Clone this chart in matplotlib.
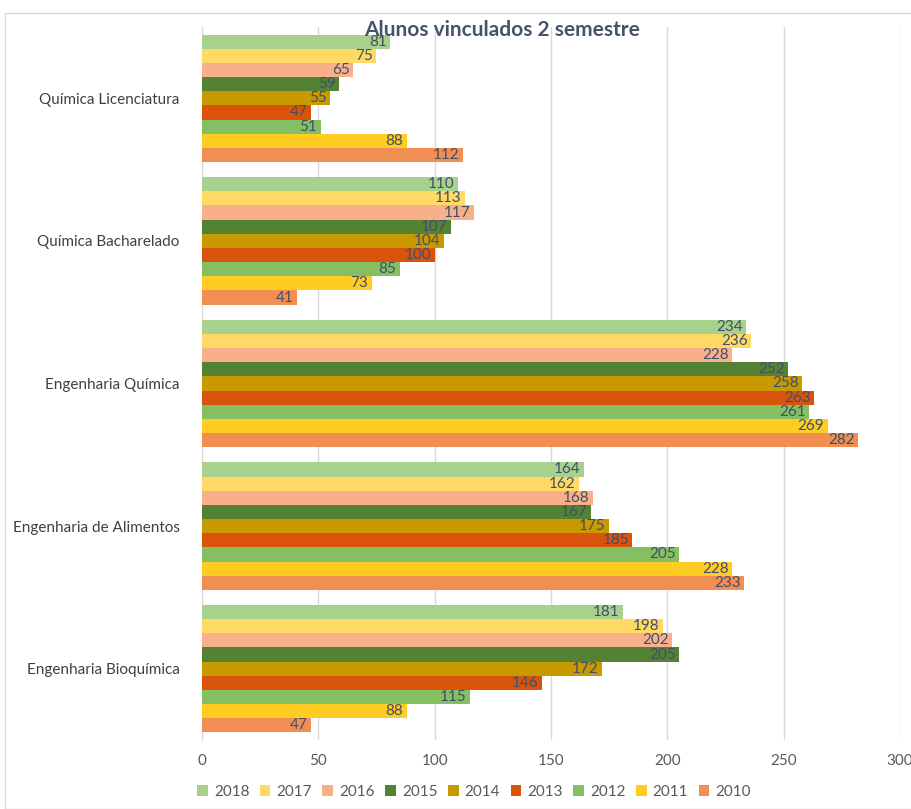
import matplotlib
matplotlib.use("Agg")
import matplotlib.pyplot as plt
import numpy as np
from matplotlib.patches import Rectangle

plt.rcParams['font.family'] = ['Lato', 'DejaVu Sans']

categories = ["Química Licenciatura", "Química Bacharelado", "Engenharia Química",
              "Engenharia de Alimentos", "Engenharia Bioquímica"]
years = ["2018", "2017", "2016", "2015", "2014", "2013", "2012", "2011", "2010"]
values = {
    "2018": [81, 110, 234, 164, 181],
    "2017": [75, 113, 236, 162, 198],
    "2016": [65, 117, 228, 168, 202],
    "2015": [59, 107, 252, 167, 205],
    "2014": [55, 104, 258, 175, 172],
    "2013": [47, 100, 263, 185, 146],
    "2012": [51, 85, 261, 205, 115],
    "2011": [88, 73, 269, 228, 88],
    "2010": [112, 41, 282, 233, 47],
}
colors = {
    "2018": "#A9D18E", "2017": "#FFD966", "2016": "#F8B08A",
    "2015": "#548235", "2014": "#C99A00", "2013": "#D9540A",
    "2012": "#84C062", "2011": "#FFCC22", "2010": "#F28E52",
}
title = "Alunos vinculados 2 semestre"

fig = plt.figure(figsize=(9.12, 8.09), dpi=100)
fig.patches.append(Rectangle((5/912, 0.0), 1.2, (809-13)/809, transform=fig.transFigure,
                             fill=False, edgecolor="#D9D9D9", linewidth=1.0, zorder=0))
ax = fig.add_axes([202/912, 1-740/809, (900-202)/912, (740-27)/809])

n = len(years)
bh = 0.894 / n
y = np.arange(len(categories))
for i, yr in enumerate(years):
    pos = y - 0.447 + bh * (i + 0.5)
    bars = ax.barh(pos, values[yr], height=bh, color=colors[yr], label=yr, zorder=3)
    for b, v in zip(bars, values[yr]):
        ax.text(b.get_width() - 1.5, b.get_y() + b.get_height()/2, str(v),
                ha="right", va="center", fontsize=11, color="#404F66", zorder=4)

ax.set_ylim(len(categories) - 0.5, -0.5)
ax.set_xlim(0, 300)
ax.set_xticks(np.arange(0, 301, 50))
ax.set_yticks(y)
ax.set_yticklabels(categories, fontsize=11, color="#404040")
ax.tick_params(axis='x', labelsize=11, colors="#595959", length=0, pad=10)
ax.tick_params(axis='y', length=0, pad=16)
ax.grid(axis='x', color="#D9D9D9", linewidth=1, zorder=0)
for s in ["top", "right", "bottom"]:
    ax.spines[s].set_visible(False)
ax.spines["left"].set_color("#D9D9D9")
ax.set_facecolor("none")

fig.text(502/912, 1-30/809, title, ha="center", va="center", fontsize=15,
         fontweight="bold", color="#44546A", zorder=5)

handles, labels = ax.get_legend_handles_labels()
fig.legend(handles, labels, loc="center", bbox_to_anchor=(474/912, 1-792/809), ncol=9,
           frameon=False, fontsize=11, handlelength=0.7, handleheight=0.7,
           handletextpad=0.4, columnspacing=0.68, labelcolor="#595959")

fig.savefig("out.png", dpi=100)
